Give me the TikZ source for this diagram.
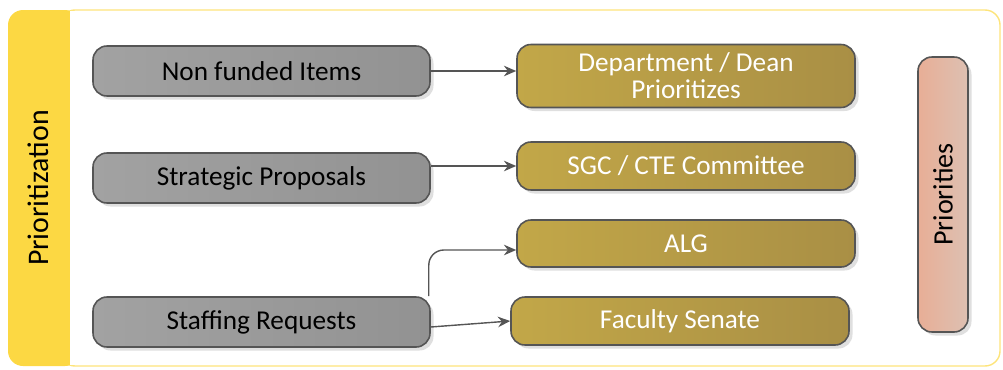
\documentclass[tikz,border=0pt]{standalone}
\usepackage{fontspec}
\setmainfont{Carlito}
\usetikzlibrary{shadows,arrows.meta}

\definecolor{bandyellow}{HTML}{FCD843}
\definecolor{edgegray}{HTML}{555555}
\definecolor{goldL}{HTML}{C2A748}
\definecolor{goldR}{HTML}{A98F45}
\definecolor{grayL}{HTML}{A2A2A2}
\definecolor{grayR}{HTML}{929292}
\definecolor{salmonL}{HTML}{E8AE96}
\definecolor{salmonR}{HTML}{DDC0B2}

\tikzset{
  pill/.style={draw=edgegray, line width=0.9pt, rounded corners=0.28cm,
    drop shadow={opacity=0.25, shadow xshift=0.07cm, shadow yshift=-0.07cm},
    inner sep=0pt, font=\fontsize{15.5}{17.5}\selectfont},
  itembox/.style={pill, left color=grayL, right color=grayR,
    minimum width=6.74cm, minimum height=1cm, text=black},
  stagebox/.style={pill, left color=goldL, right color=goldR,
    minimum width=6.76cm, text=white, align=center},
  link/.style={draw=edgegray, line width=0.8pt, -{Stealth[length=7pt,width=6pt]}}
}

\begin{document}
\begin{tikzpicture}
  \useasboundingbox (0,0) rectangle (20.06,7.38);

  % frame and side band
  \draw[bandyellow!70, line width=0.8pt, rounded corners=0.3cm] (1.2,0.06) rectangle (20.0,7.18);
  \fill[bandyellow, rounded corners=0.3cm] (0.16,0.06) rectangle (1.6,7.18);
  \fill[white] (1.4,0.08) rectangle (1.9,7.16);
  \node[rotate=90, font=\fontsize{17}{19}\selectfont] (prio) at (0.76,3.62) {Prioritization};

  % requests
  \node[itembox] (nonfunded) at (5.23,5.96) {Non funded Items};
  \node[itembox] (strategic) at (5.23,3.82) {Strategic Proposals};
  \node[itembox] (staffing) at (5.23,0.94) {Staffing Requests};

  % reviewing bodies
  \node[stagebox, minimum height=1.26cm] (dean) at (13.72,5.86) {Department / Dean\\[-2pt]Prioritizes};
  \node[stagebox, minimum height=0.96cm] (sgc) at (13.72,4.06) {SGC / CTE Committee};
  \node[stagebox, minimum height=0.94cm] (alg) at (13.72,2.51) {ALG};
  \node[stagebox, minimum height=0.96cm] (senate) at (13.6,0.96) {Faculty Senate};

  \node[pill, left color=salmonL, right color=salmonR, minimum width=1cm, minimum height=5.5cm] (prios) at (18.86,3.49) {};
  \node[rotate=90, font=\fontsize{16}{18}\selectfont] (priolabel) at (prios.center) {Priorities};

  % connectors
  \draw[link] (nonfunded.east) -- (nonfunded.east -| dean.west);
  \draw[link] (sgc.west -| strategic.east) -- (sgc.west);
  \coordinate (algin) at ([yshift=-0.13cm]alg.west);
  \draw[link, rounded corners=0.3cm] ([xshift=-0.04cm]staffing.north east) |- (algin);
  \draw[link] ([yshift=-0.1cm]staffing.east) -- (senate.west);
\end{tikzpicture}
\end{document}
